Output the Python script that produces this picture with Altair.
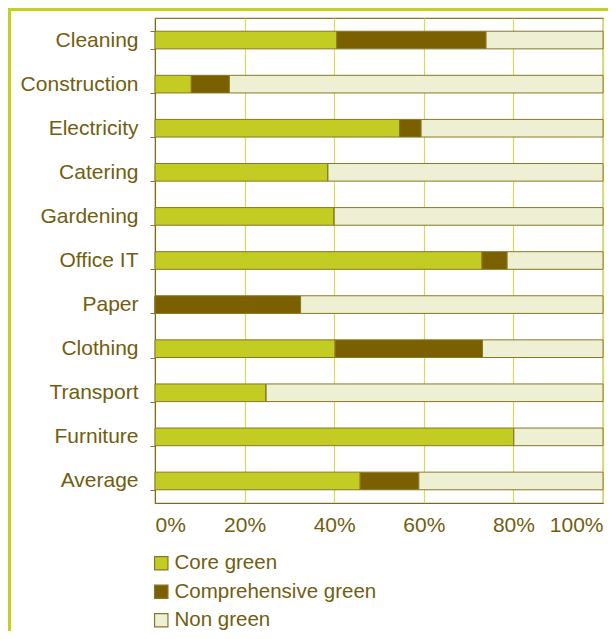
import altair as alt
import pandas as pd

categories = ["Cleaning", "Construction", "Electricity", "Catering", "Gardening",
              "Office IT", "Paper", "Clothing", "Transport", "Furniture", "Average"]
core_green = [40.6, 8.1, 54.6, 38.6, 40.0, 73.0, 0.0, 40.2, 24.8, 80.1, 45.8]
comprehensive_green = [33.3, 8.5, 4.8, 0.0, 0.0, 5.6, 32.5, 32.9, 0.0, 0.0, 13.1]
series = ["Core green", "Comprehensive green", "Non green"]
colors = ["#c2cc22", "#7a6000", "#edf0d3"]

rows = []
for i, c in enumerate(categories):
    non = 100 - core_green[i] - comprehensive_green[i]
    for j, (s, v) in enumerate(zip(series, [core_green[i], comprehensive_green[i], non])):
        rows.append({"category": c, "series": s, "value": v / 100, "order": j})
df = pd.DataFrame(rows)

TXT = "#715e10"
FONT = "Liberation Sans"
FS = 21
W, H = 448, 485

bars = alt.Chart(df).mark_bar(stroke="#8a7628", strokeWidth=1).encode(
    y=alt.Y("category:N", sort=categories,
            scale=alt.Scale(paddingInner=0.6, paddingOuter=0.3),
            axis=alt.Axis(title=None, tickBand="extent", tickSize=5, tickColor="#8a7628",
                          domainColor="#7a6a20", labelFontSize=FS, labelColor=TXT,
                          labelFont=FONT, labelPadding=12, grid=False)),
    x=alt.X("value:Q", stack="zero", scale=alt.Scale(domain=[0, 1], nice=False),
            axis=alt.Axis(title=None, format="%", values=[0, 0.2, 0.4, 0.6, 0.8, 1.0],
                          grid=True, gridColor="#d6dd55", gridWidth=1.2, ticks=False,
                          domainColor="#7a6a20", labelFontSize=FS, labelColor=TXT,
                          labelFont=FONT, labelPadding=11)),
    color=alt.Color("series:N", sort=series,
                    scale=alt.Scale(domain=series, range=colors),
                    legend=alt.Legend(title=None, orient="none", legendX=-4, legendY=50 + H,
                                      direction="vertical", symbolType="square",
                                      symbolSize=180, symbolStrokeColor="#8a7628",
                                      symbolStrokeWidth=1.2, labelFontSize=20.5,
                                      labelColor=TXT, labelFont=FONT, labelLimit=0,
                                      rowPadding=7.5, labelOffset=3, padding=0)),
    order=alt.Order("order:Q"),
)

frame_left = alt.Chart(pd.DataFrame({"a": [0]})).mark_rule(color="#c5cf1f", strokeWidth=3).encode(
    x=alt.value(-145.5), y=alt.value(-9.5), y2=alt.value(H + 128))
frame_top = alt.Chart(pd.DataFrame({"a": [0]})).mark_rule(color="#c5cf1f", strokeWidth=3).encode(
    x=alt.value(-147), x2=alt.value(W + 5), y=alt.value(-8.5))

chart = alt.layer(bars, frame_left, frame_top).properties(
    width=W, height=H,
    autosize=alt.AutoSizeParams(type="none"),
    padding={"left": 147, "top": 10, "right": 5, "bottom": 128},
).configure_view(stroke="#8a7628", strokeWidth=1.2)

chart.save("out.html", embed_options={"renderer": "svg", "actions": False})
